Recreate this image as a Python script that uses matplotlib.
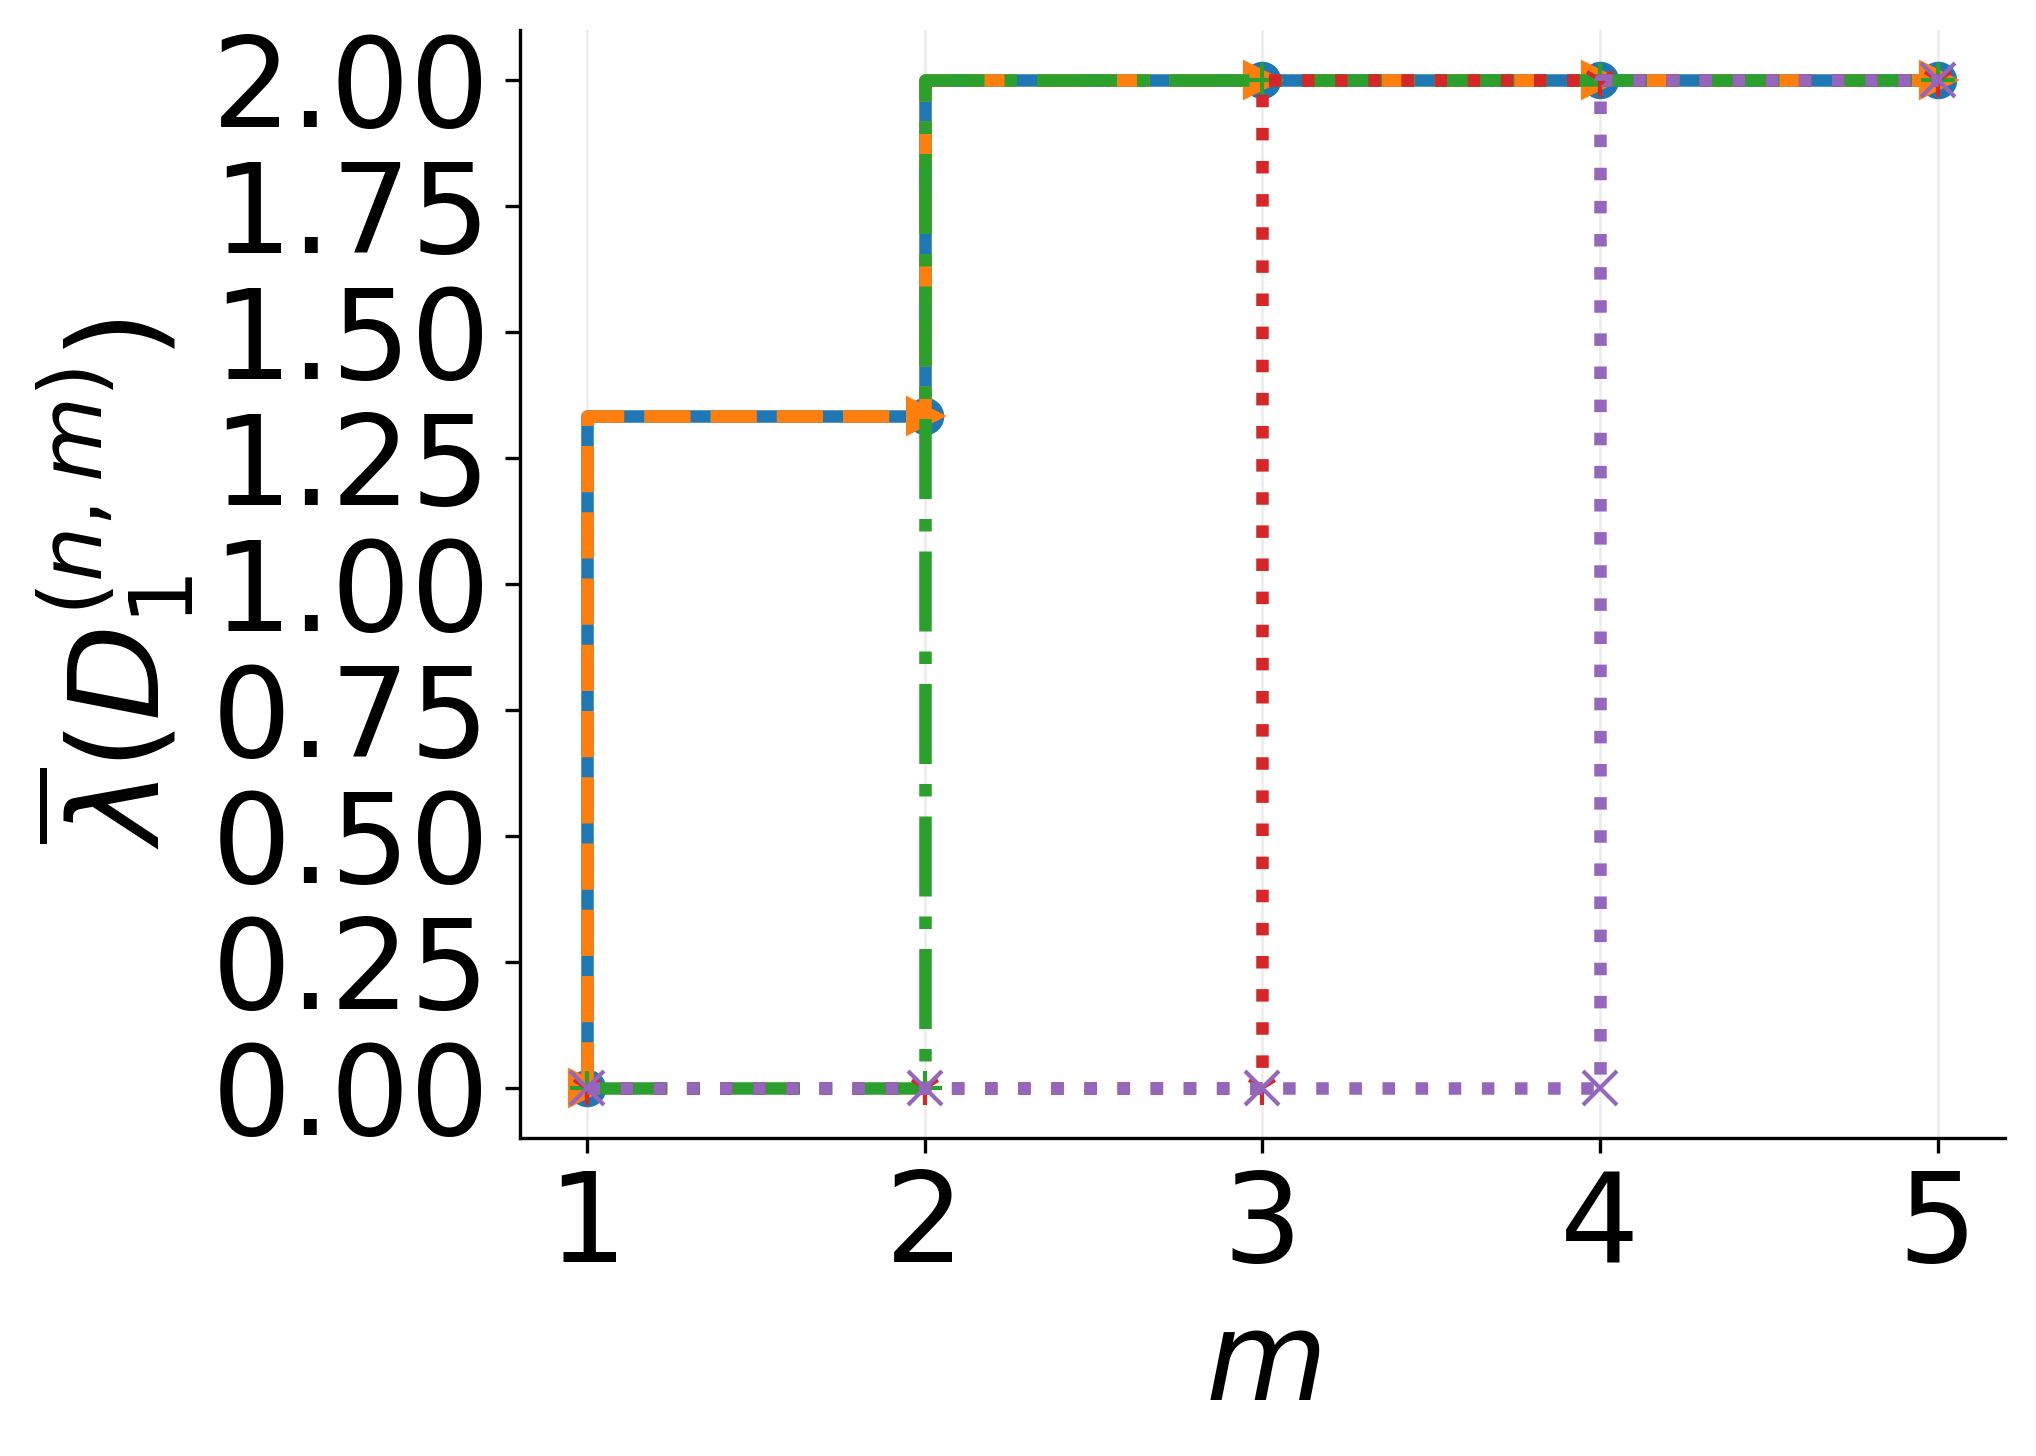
import numpy as np
import matplotlib
matplotlib.use("Agg")
import matplotlib.pyplot as plt
from matplotlib.ticker import FormatStrFormatter

# m values and mean lambda(D_1^(n,m)) for the five curves
m_vals = [1, 2, 3, 4, 5]
lam_c0 = [0.0, 1.333, 2.0, 2.0, 2.0]
lam_c1 = [0.0, 1.333, 2.0, 2.0, 2.0]
lam_c2 = [0.0, 0.0, 2.0, 2.0, 2.0]
lam_c3 = [0.0, 0.0, 0.0, 2.0, 2.0]
lam_c4 = [0.0, 0.0, 0.0, 0.0, 2.0]

series = [lam_c0, lam_c1, lam_c2, lam_c3, lam_c4]
colors = ["C0", "C1", "C2", "C3", "C4"]
styles = ["-", "--", "-.", ":", ":"]
markers = ["o", ">", "+", "1", "x"]

plt.rcParams["font.size"] = 30
plt.rcParams["mathtext.fontset"] = "dejavusans"

fig = plt.figure(figsize=(2036 / 300, 1456 / 300), dpi=300)
ax = fig.add_axes([0.2552, 0.2184, 0.9848 - 0.2552, 0.9797 - 0.2184])

for yv, c, ls, mk in zip(series, colors, styles, markers):
    ax.plot(m_vals, yv, drawstyle="steps-pre", color=c, linestyle=ls,
            linewidth=3, marker=mk, markersize=8)

ax.set_xticks(m_vals)
ax.set_yticks(np.arange(0, 2.01, 0.25))
ax.yaxis.set_major_formatter(FormatStrFormatter("%.2f"))
ax.set_xlim(0.8, 5.2)
ax.set_ylim(-0.1, 2.1)

ax.grid(axis="x", color="#ececec", linewidth=0.6)
ax.set_axisbelow(True)
ax.spines["top"].set_visible(False)
ax.spines["right"].set_visible(False)

ax.set_xlabel("$m$")
ax.set_ylabel(r"$\overline{\lambda}(D_1^{(n,m)})$")

fig.savefig("out.png", dpi=300)
